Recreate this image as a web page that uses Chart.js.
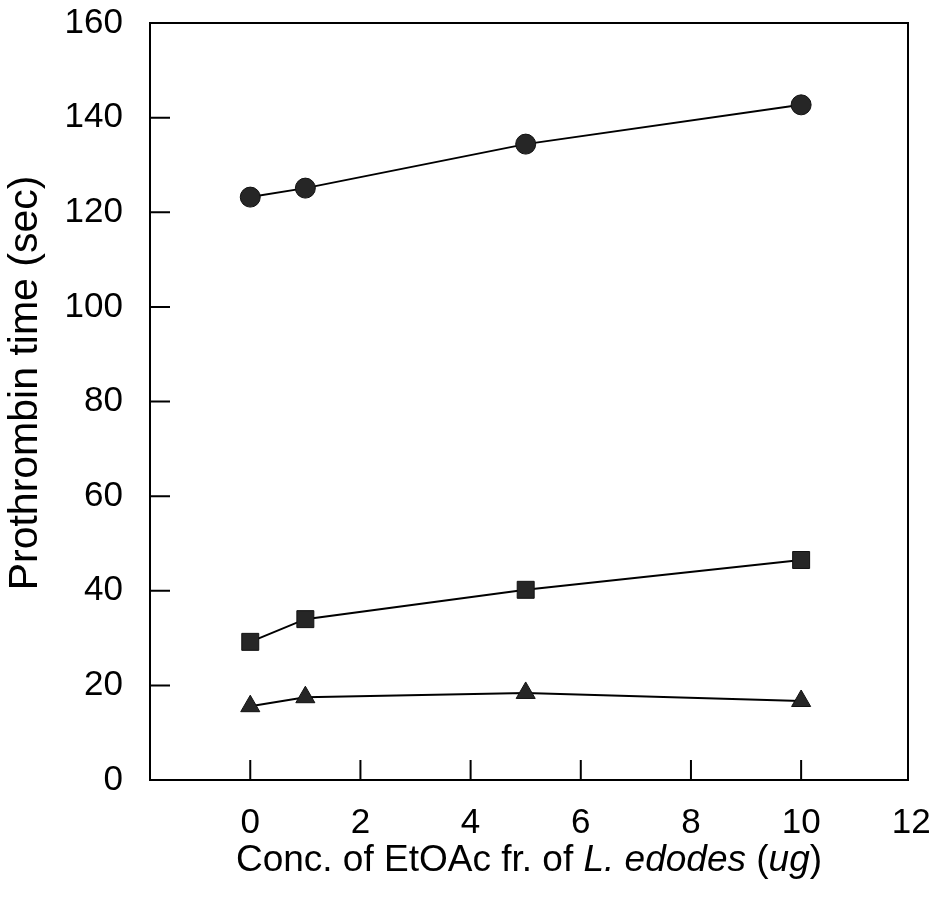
<!DOCTYPE html>
<html>
<head>
<meta charset="utf-8">
<script src="https://cdn.jsdelivr.net/npm/chart.js@4.4.1/dist/chart.umd.min.js"></script>
<style>
  html, body { margin: 0; padding: 0; background: #fff; }
  #wrap { width: 934px; height: 906px; }
</style>
</head>
<body>
<div id="wrap"><canvas id="ptChart" width="934" height="906"></canvas></div>
<script>
// data
var conc = [0, 1, 5, 10];
var circleVals = [123.2, 125.1, 134.4, 142.7];
var squareVals = [29.2, 34.0, 40.2, 46.5];
var triangleVals = [15.6, 17.5, 18.4, 16.7];
var xTicks = [0, 2, 4, 6, 8, 10, 12];
var yTicks = [0, 20, 40, 60, 80, 100, 120, 140, 160];
var yTitleText = 'Prothrombin time (sec)';

var FONT = "'Liberation Sans', Arial, sans-serif";

function pts(vals) {
  return conc.map(function (c, i) { return { x: c, y: vals[i] }; });
}

function series(vals, style, r) {
  return {
    data: pts(vals),
    borderColor: '#000',
    borderWidth: 2,
    pointStyle: style,
    pointRadius: r,
    pointBackgroundColor: '#262626',
    pointBorderColor: '#111',
    pointBorderWidth: 1,
    fill: false,
    tension: 0
  };
}

// labels may overhang, keep the plot box where the figure has it
function noPad(s) {
  s.paddingTop = 0; s.paddingBottom = 0;
  s.paddingLeft = 0; s.paddingRight = 0;
}

// box round the plot + short inward ticks
var frame = {
  id: 'frame',
  afterDatasetsDraw: function (chart) {
    var ctx = chart.ctx, a = chart.chartArea;
    var xs = chart.scales.x, ys = chart.scales.y;
    ctx.save();
    ctx.strokeStyle = '#000';
    ctx.lineWidth = 2;
    ctx.strokeRect(a.left, a.top, a.right - a.left, a.bottom - a.top);
    ctx.beginPath();
    xTicks.forEach(function (v) {
      var px = xs.getPixelForValue(v);
      if (px >= a.right - 1) return;
      ctx.moveTo(px, a.bottom);
      ctx.lineTo(px, a.bottom - 20);
    });
    yTicks.forEach(function (v) {
      var py = ys.getPixelForValue(v);
      ctx.moveTo(a.left, py);
      ctx.lineTo(a.left + 20, py);
    });
    ctx.stroke();
    ctx.restore();
  }
};

// axis titles (x one has italic parts)
var xTitleParts = [
  ['Conc. of EtOAc fr. of ', false],
  ['L. edodes', true],
  [' (', false],
  ['ug', true],
  [')', false]
];
var titles = {
  id: 'titles',
  afterDraw: function (chart) {
    var ctx = chart.ctx, a = chart.chartArea;
    ctx.save();
    ctx.fillStyle = '#000';
    ctx.textBaseline = 'middle';
    ctx.textAlign = 'left';
    var total = 0;
    xTitleParts.forEach(function (p) {
      ctx.font = (p[1] ? 'italic ' : '') + '37px ' + FONT;
      total += ctx.measureText(p[0]).width;
    });
    var x = (a.left + a.right) / 2 - total / 2;
    xTitleParts.forEach(function (p) {
      ctx.font = (p[1] ? 'italic ' : '') + '37px ' + FONT;
      ctx.fillText(p[0], x, 861);
      x += ctx.measureText(p[0]).width;
    });

    ctx.translate(26, 383);
    ctx.rotate(-Math.PI / 2);
    ctx.textAlign = 'center';
    ctx.font = '41px ' + FONT;
    ctx.fillText(yTitleText, 0, 0);
    ctx.restore();
  }
};

new Chart(document.getElementById('ptChart'), {
  type: 'line',
  data: {
    datasets: [
      series(circleVals, 'circle', 10),
      series(squareVals, 'rect', 12),
      series(triangleVals, 'triangle', 11)
    ]
  },
  options: {
    responsive: false,
    animation: false,
    layout: { padding: { top: 23, right: 26, left: 0, bottom: 0 } },
    plugins: { legend: { display: false }, tooltip: { enabled: false } },
    scales: {
      x: {
        type: 'linear',
        min: -1.82,
        max: 11.94,
        afterBuildTicks: function (s) { s.ticks = xTicks.map(function (v) { return { value: v }; }); },
        afterFit: function (s) { s.height = 126; noPad(s); },
        grid: { display: false, drawTicks: false },
        border: { display: false },
        ticks: { color: '#000', font: { family: FONT, size: 35 }, padding: 22, maxRotation: 0 }
      },
      y: {
        min: 0,
        max: 160,
        afterBuildTicks: function (s) { s.ticks = yTicks.map(function (v) { return { value: v }; }); },
        afterFit: function (s) { s.width = 150; noPad(s); },
        grid: { display: false, drawTicks: false },
        border: { display: false },
        ticks: { color: '#000', font: { family: FONT, size: 35 }, padding: 27 }
      }
    }
  },
  plugins: [frame, titles]
});
</script>
</body>
</html>
